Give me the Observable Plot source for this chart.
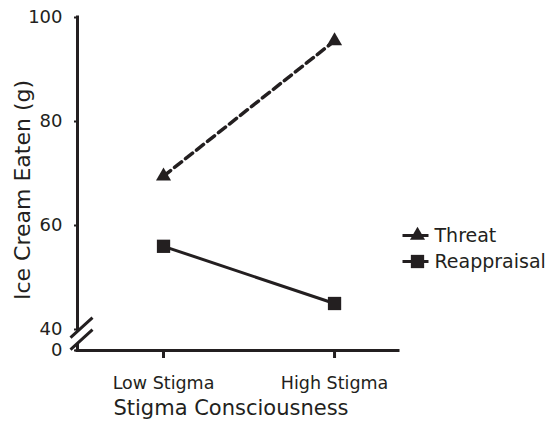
<!DOCTYPE html>
<html><head><meta charset="utf-8">
<script src="https://cdn.jsdelivr.net/npm/d3@7"></script>
<script src="https://cdn.jsdelivr.net/npm/@observablehq/plot@0.6"></script>
<style>body{margin:0;background:#fff}</style>
</head><body><div id="chart"></div>
<script>
const categories = ["Low Stigma", "High Stigma"];
const seriesNames = ["Threat", "Reappraisal"];
const threatValues = [69.5, 95.5];
const reappraisalValues = [56, 45];
const yTicks = [0, 40, 60, 80, 100];
const breakAt = [32];
const xTitle = "Stigma Consciousness";
const yTitle = "Ice Cream Eaten (g)";

const ink = "#231f20";
const font = "DejaVu Sans";
const threat = categories.map((c, i) => ({cat: c, i, value: threatValues[i]}));
const reapp = categories.map((c, i) => ({cat: c, i, value: reappraisalValues[i]}));
const xMin = -0.503, xMax = 1.374;

const lineSym = {draw(ctx) { ctx.moveTo(-13, -1.5); ctx.lineTo(13, -1.5); ctx.lineTo(13, 1.5); ctx.lineTo(-13, 1.5); ctx.closePath(); }};
const maskSym = {draw(ctx) { ctx.moveTo(-11, 4); ctx.lineTo(11, -16); ctx.lineTo(11, -4); ctx.lineTo(-11, 16); ctx.closePath(); }};
const slashSym = {draw(ctx) { ctx.moveTo(-11, 4); ctx.lineTo(11, -16); ctx.moveTo(-11, 16); ctx.lineTo(11, -4); }};

const legendRows = [
  {name: seriesNames[0], symbol: "triangle", r: 5.6, dy: 218},
  {name: seriesNames[1], symbol: "square", r: 7.5, dy: 244}
];

const chart = Plot.plot({
  width: 554, height: 423,
  marginLeft: 77, marginRight: 156, marginTop: 17, marginBottom: 73,
  style: {fontFamily: font, color: ink, background: "#fff"},
  x: {type: "linear", domain: [xMin, xMax]},
  y: {type: "linear", domain: [0, 40, 100], range: [350, 329, 17]},
  marks: [
    Plot.axisX({ticks: [0, 1], tickFormat: i => categories[i], tickSize: 8, tickPadding: 18, fontSize: 17.5, stroke: ink, strokeWidth: 3, label: null}),
    Plot.axisY({ticks: yTicks, tickSize: 3, tickPadding: 12, fontSize: 18, stroke: ink, strokeWidth: 2, label: null}),
    Plot.ruleY([0], {stroke: ink, strokeWidth: 3, strokeLinecap: "square"}),
    Plot.ruleX([xMin], {y1: 0, y2: 100, stroke: ink, strokeWidth: 3, strokeLinecap: "square"}),
    Plot.dot(breakAt, {x: () => xMin, y: d => d, symbol: maskSym, fill: "white", stroke: "none", dx: 4}),
    Plot.dot(breakAt, {x: () => xMin, y: d => d, symbol: slashSym, fill: "none", stroke: ink, strokeWidth: 3, dx: 4}),
    Plot.line(threat, {x: "i", y: "value", stroke: ink, strokeWidth: 3.5, strokeDasharray: "9,5"}),
    Plot.line(reapp, {x: "i", y: "value", stroke: ink, strokeWidth: 3}),
    Plot.dot(threat, {x: "i", y: "value", symbol: "triangle", r: 5.6, fill: ink, stroke: "none"}),
    Plot.dot(reapp, {x: "i", y: "value", symbol: "square", r: 7.5, fill: ink, stroke: "none"}),
    ...legendRows.flatMap(row => [
      Plot.dot([row.name], {frameAnchor: "top-right", dx: 17, dy: row.dy, symbol: lineSym, fill: ink, stroke: "none"}),
      Plot.dot([row.name], {frameAnchor: "top-right", dx: 19, dy: row.dy, symbol: row.symbol, r: row.r, fill: ink, stroke: "none"}),
      Plot.text([row.name], {frameAnchor: "top-right", dx: 36, dy: row.dy, text: d => d, textAnchor: "start", lineAnchor: "middle", fontSize: 19, fill: ink})
    ]),
    Plot.text([yTitle], {frameAnchor: "left", rotate: -90, dx: -55, dy: 6, text: d => d, textAnchor: "middle", lineAnchor: "middle", fontSize: 22, fill: ink}),
    Plot.text([xTitle], {frameAnchor: "bottom", dx: -7, dy: 58, text: d => d, textAnchor: "middle", lineAnchor: "middle", fontSize: 21, fill: ink})
  ]
});
document.getElementById("chart").append(chart);
</script>
</body></html>
